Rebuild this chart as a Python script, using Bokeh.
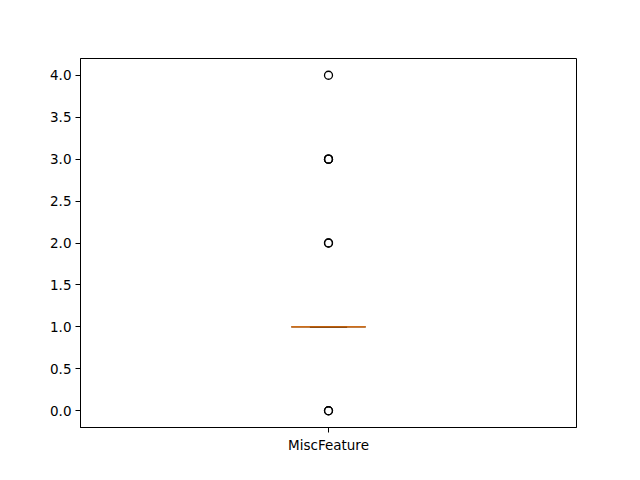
from bokeh.plotting import figure
from bokeh.models import FixedTicker, Range1d
from bokeh.embed import file_html
from bokeh.resources import INLINE

categories = ["MiscFeature"]
positions = [1.0]
q1 = [1.0]
median = [1.0]
q3 = [1.0]
whisker_low = [1.0]
whisker_high = [1.0]
outlier_values = [0.0, 0.0, 2.0, 2.0, 3.0, 3.0, 3.0, 4.0]
y_ticks = [0.0, 0.5, 1.0, 1.5, 2.0, 2.5, 3.0, 3.5, 4.0]

p = figure(width=640, height=480, output_backend="svg", toolbar_location=None,
           x_range=Range1d(0.5, 1.5), y_range=Range1d(-0.2, 4.2),
           min_border_left=80, min_border_right=64, min_border_top=58, min_border_bottom=53)
p.background_fill_color = "white"
p.border_fill_color = "white"
p.outline_line_color = "black"
p.outline_line_width = 1
p.grid.visible = False

half_box = 0.075
half_cap = 0.0375
for pos, a, m, b, lo, hi in zip(positions, q1, median, q3, whisker_low, whisker_high):
    p.quad(left=[pos - half_box], right=[pos + half_box], bottom=[a], top=[b],
           fill_color=None, line_color="black", line_width=1.3)
    p.segment(x0=[pos, pos], y0=[lo, b], x1=[pos, pos], y1=[a, hi], line_color="black", line_width=1.3)
    p.segment(x0=[pos - half_cap, pos - half_cap], y0=[lo, hi], x1=[pos + half_cap, pos + half_cap], y1=[lo, hi],
              line_color="black", line_width=1.3)
    p.segment(x0=[pos - half_box], y0=[m], x1=[pos + half_box], y1=[m], line_color="#ff7f0e", line_width=1.4)

p.scatter(x=[positions[0]] * len(outlier_values), y=outlier_values, size=8, marker="circle",
          fill_color=None, line_color="black", line_width=1.3)

p.xaxis.ticker = FixedTicker(ticks=positions)
p.xaxis.major_label_overrides = {pos: c for pos, c in zip(positions, categories)}
p.yaxis.ticker = FixedTicker(ticks=y_ticks)
p.yaxis.major_label_overrides = {t: f"{t:.1f}" for t in y_ticks}
for ax in (p.xaxis[0], p.yaxis[0]):
    ax.axis_line_color = "black"
    ax.major_tick_line_color = "black"
    ax.major_tick_out = 5
    ax.major_tick_in = 0
    ax.minor_tick_line_color = None
    ax.major_label_text_font = "DejaVu Sans"
    ax.major_label_text_font_size = "13.5px"
    ax.major_label_text_color = "black"
    ax.major_label_standoff = 4

open("out.html", "w").write(file_html(p, INLINE))
